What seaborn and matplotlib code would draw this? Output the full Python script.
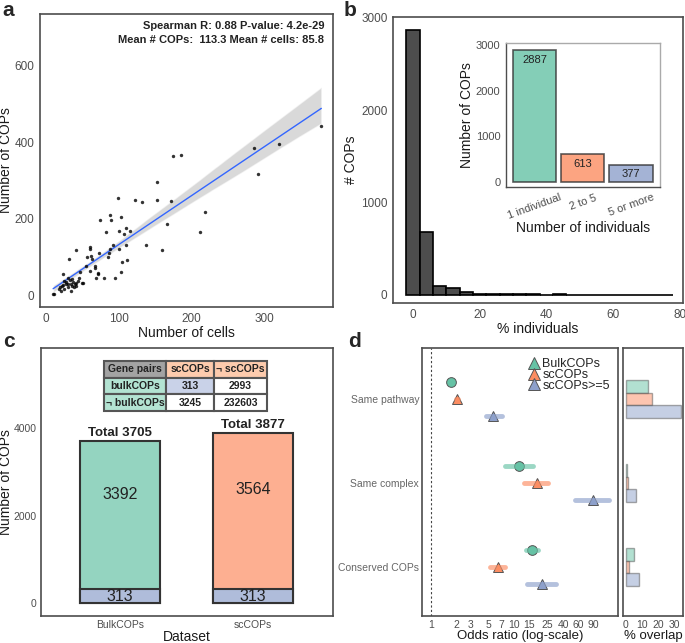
import numpy as np
import pandas as pd
import seaborn as sns
import matplotlib.pyplot as plt
from matplotlib.lines import Line2D

# panel a: cells vs COPs per individual
cells = [10, 11, 21, 23, 32, 42, 47, 50, 51, 55, 57, 60, 61, 62, 63, 61, 67, 68, 69, 71,
         72, 73, 75, 80, 82, 85, 86, 88, 88, 90, 92, 95, 99, 101, 101, 103, 104, 103, 107,
         110, 110, 111, 115, 122, 132, 137, 152, 153, 159, 166, 172, 174, 185, 211, 218,
         285, 291, 320, 378,
         20, 22, 25, 27, 28, 30, 31, 33, 34, 35, 36, 37, 38, 40, 41, 42, 44, 30, 25, 18,
         24, 36, 46]
cops = [4, 2, 11, 55, 95, 117, 61, 31, 33, 77, 99, 125, 120, 103, 95, 62, 75, 70, 44, 59,
        54, 110, 196, 46, 165, 101, 110, 120, 209, 197, 132, 46, 254, 120, 169, 204, 86, 61,
        160, 177, 132, 92, 168, 250, 243, 132, 297, 250, 117, 187, 246, 364, 367, 165, 218,
        386, 318, 396, 443,
        20, 25, 15, 30, 35, 28, 22, 40, 10, 30, 25, 35, 20, 28, 32, 25, 38, 45, 38, 15,
        26, 42, 45]

# panel b: histogram of % individuals (bins of width 4)
pct_centers = list(range(0, 80, 4))
pct_counts = [2870, 680, 98, 73, 33, 12, 8, 9, 6, 5, 4, 5, 4, 3, 2, 2, 2, 3, 2, 1]
ind_groups = ["1 individual", "2 to 5", "5 or more"]
ind_counts = [2887, 613, 377]

# panel c
datasets = ["BulkCOPs", "scCOPs"]
totals = [3705, 3877]
shared = [313, 313]
table_rows = [["Gene pairs", "scCOPs", "¬ scCOPs"],
              ["bulkCOPs", "313", "2993"],
              ["¬ bulkCOPs", "3245", "232603"]]

# panel d
terms = ["Same pathway", "Same complex", "Conserved COPs"]
cop_sets = ["BulkCOPs", "scCOPs", "scCOPs>=5"]
odds = [[1.74, 2.04, 5.6], [11.6, 18.8, 90], [16.3, 6.4, 21.5]]
odds_lo = [[1.69, 1.98, 4.56], [7.8, 13.3, 55], [13.8, 5.1, 14.5]]
odds_hi = [[1.79, 2.10, 7.1], [17.1, 25.9, 141], [19.3, 7.9, 32]]
overlap = [[13.5, 15.7, 33.5], [0.4, 1.0, 6.0], [5.0, 2.0, 8.0]]

set2 = ["#66C2A5", "#FC8D62", "#8DA0CB"]
set2_light = ["#94D4C0", "#FDAF91", "#AFBCDA"]
frame_col = "#4D4D4D"
tick_col = "#4D4D4D"
title_col = "#1A1A1A"


def style_frame(ax, lw=1.2, size=8.5):
    for s in ax.spines.values():
        s.set_visible(True)
        s.set_color(frame_col)
        s.set_linewidth(lw)
    ax.tick_params(colors="#333333", labelcolor=tick_col, length=2.5, width=0.8,
                   pad=1.5, labelsize=size)
    ax.grid(False)
    ax.set_facecolor("white")


sns.set_theme(style="white")
plt.rcParams["font.family"] = ["Liberation Sans", "DejaVu Sans"]

fig = plt.figure(figsize=(6.85, 6.43), dpi=100)

# ---------------- panel a
ax_a = fig.add_axes([0.0584, 0.5226, 0.4277, 0.4557])
sns.regplot(x=cells, y=cops, ax=ax_a, seed=1, ci=90,
            scatter_kws={"s": 6, "color": "black", "linewidths": 0, "zorder": 4},
            line_kws={"color": "#3366FF", "linewidth": 1},
            color="#999999")
for coll in ax_a.collections[1:]:
    coll.set_facecolor("#BBBBBB")
    coll.set_alpha(0.55)
ax_a.set_xlim(-8, 394)
ax_a.set_ylim(-31, 736)
ax_a.set_xticks([0, 100, 200, 300])
ax_a.set_yticks([0, 200, 400, 600])
style_frame(ax_a)
ax_a.set_xlabel("Number of cells", fontsize=10, color=title_col, labelpad=1)
ax_a.set_ylabel("Number of COPs", fontsize=10, color=title_col, labelpad=1)
ax_a.text(0.97, 0.975, "Spearman R: 0.88 P-value: 4.2e-29", transform=ax_a.transAxes,
          ha="right", va="top", fontsize=8, fontweight="bold", color="#222222")
ax_a.text(0.97, 0.927, "Mean # COPs:  113.3 Mean # cells: 85.8", transform=ax_a.transAxes,
          ha="right", va="top", fontsize=8, fontweight="bold", color="#222222")

# ---------------- panel b
ax_b = fig.add_axes([0.5737, 0.5288, 0.4234, 0.4448])
sns.barplot(x=pct_centers, y=pct_counts, native_scale=True, width=1, ax=ax_b,
            color="#4D4D4D", edgecolor="black", linewidth=1.2, saturation=1)
ax_b.set_xlim(-6, 81)
ax_b.set_ylim(-87, 3011)
ax_b.set_xticks([0, 20, 40, 60, 80])
ax_b.set_yticks([0, 1000, 2000, 3000])
style_frame(ax_b)
ax_b.set_xlabel("% individuals", fontsize=10, color=title_col, labelpad=1)
ax_b.set_ylabel("# COPs", fontsize=10, color=title_col, labelpad=2)

ax_in = fig.add_axes([0.7387, 0.7092, 0.2248, 0.224])
sns.barplot(x=ind_groups, y=ind_counts, hue=ind_groups, palette=set2, ax=ax_in,
            width=0.9, alpha=0.8, saturation=1, edgecolor="#333333", linewidth=1.2,
            legend=False)
for i, v in enumerate(ind_counts):
    ax_in.annotate(str(v), (i, v), xytext=(0, -7), textcoords="offset points",
                   ha="center", va="center", fontsize=8, color="#222222")
ax_in.set_xlim(-0.59, 2.6)
ax_in.set_ylim(-110, 3044)
ax_in.set_yticks([0, 1000, 2000, 3000])
style_frame(ax_in, lw=1, size=8)
ax_in.set_xlabel("Number of individuals", fontsize=10, color=title_col, labelpad=0)
ax_in.set_ylabel("Number of COPs", fontsize=10, color=title_col, labelpad=1)
for lab in ax_in.get_xticklabels():
    lab.set_rotation(20)
    lab.set_ha("center")
ax_in.spines["top"].set_color("#AAAAAA")
ax_in.spines["right"].set_color("#AAAAAA")

# ---------------- panel c
ax_c = fig.add_axes([0.0599, 0.042, 0.4263, 0.4168])
sns.barplot(x=datasets, y=totals, hue=datasets, palette=set2_light[:2], ax=ax_c,
            width=0.6, saturation=1, edgecolor="#333333", linewidth=1.5, legend=False)
sns.barplot(x=datasets, y=shared, color=set2_light[2], ax=ax_c, width=0.6,
            saturation=1, edgecolor="#333333", linewidth=1.5)
for i, (t, s) in enumerate(zip(totals, shared)):
    ax_c.text(i, t + 50, f"Total {t}", ha="center", va="bottom", fontsize=9.5,
              fontweight="bold", color="#222222")
    ax_c.text(i, t * 0.667, str(t - s), ha="center", va="center", fontsize=11.5,
              color="#222222")
    ax_c.text(i, s / 2, str(s), ha="center", va="center", fontsize=11.5, color="#222222")
ax_c.set_xlim(-0.594, 1.6)
ax_c.set_ylim(-297, 5829)
ax_c.set_yticks([0, 2000, 4000])
style_frame(ax_c, size=7.5)
ax_c.tick_params(length=2, pad=1)
ax_c.set_xlabel("Dataset", fontsize=10, color=title_col, labelpad=0)
ax_c.set_ylabel("Number of COPs", fontsize=10, color=title_col, labelpad=0.5)

cell_colors = [["#A3A3A3", "#FDCBAD", "#FDCBAD"],
               ["#B3E3D2", "#C9D2E8", "white"],
               ["#B3E3D2", "white", "white"]]
tbl = ax_c.table(cellText=table_rows, cellColours=cell_colors, cellLoc="center",
                 colWidths=[0.38, 0.294, 0.326], bbox=[0.216, 0.765, 0.558, 0.186])
tbl.auto_set_font_size(False)
for (r, c), cell in tbl.get_celld().items():
    cell.set_edgecolor("#555555")
    cell.set_linewidth(1.5)
    cell.get_text().set_fontsize(7.5)
    cell.get_text().set_fontweight("bold")
    cell.get_text().set_color("#222222")

# ---------------- panel d
rows = []
for ti, term in enumerate(terms):
    for si, cs in enumerate(cop_sets):
        for val in (odds_lo[ti][si], odds[ti][si], odds_hi[ti][si]):
            rows.append({"term": term, "set": cs, "odds": val})
odds_df = pd.DataFrame(rows)

ax_d = fig.add_axes([0.616, 0.042, 0.2861, 0.4168])
ax_d.set_xscale("log")
ax_d.axvline(1, color="#444444", linestyle=(0, (2, 2)), linewidth=0.8)
sns.pointplot(data=odds_df, x="odds", y="term", hue="set", order=terms,
              hue_order=cop_sets, palette=set2, estimator="median",
              errorbar=("pi", 100), dodge=0.4, markers=["o", "^", "^"],
              linestyles="none", err_kws={"linewidth": 3.5, "alpha": 0.65},
              markersize=7, markeredgecolor="#555555", markeredgewidth=0.7,
              legend=False, ax=ax_d)
ax_d.set_xlim(0.78, 179)
ax_d.set_ylim(2.583, -0.607)
ax_d.set_xticks([1, 2, 3, 5, 7, 10, 15, 25, 40, 60, 90])
ax_d.set_xticklabels(["1", "2", "3", "5", "7", "10", "15", "25", "40", "60", "90"])
ax_d.minorticks_off()
style_frame(ax_d, size=7.5)
ax_d.tick_params(axis="x", length=2, pad=1)
ax_d.tick_params(axis="y", length=0, pad=2, labelcolor="#666666")
ax_d.set_xlabel("Odds ratio (log-scale)", fontsize=9.5, color=title_col, labelpad=0)
ax_d.set_ylabel("")
handles = [Line2D([], [], marker="^", color=c, linestyle="none", markersize=8,
                  markeredgecolor="#555555", markeredgewidth=0.7) for c in set2]
ax_d.legend(handles, cop_sets, loc="upper left", bbox_to_anchor=(0.5, 0.99),
            frameon=False, fontsize=9, handletextpad=0.2, labelspacing=-0.1,
            borderaxespad=0.2, handlelength=1)

ovl_rows = []
for ti, term in enumerate(terms):
    for si, cs in enumerate(cop_sets):
        ovl_rows.append({"term": term, "set": cs, "pct": overlap[ti][si]})
ovl_df = pd.DataFrame(ovl_rows)

ax_o = fig.add_axes([0.9095, 0.042, 0.0876, 0.4168])
sns.barplot(data=ovl_df, x="pct", y="term", hue="set", order=terms, hue_order=cop_sets,
            palette=set2, orient="h", width=0.45, alpha=0.5, saturation=1,
            edgecolor="#555555", linewidth=1, legend=False, ax=ax_o)
ax_o.set_xlim(-1.8, 35)
ax_o.set_ylim(2.583, -0.607)
ax_o.set_xticks([0, 10, 20, 30])
ax_o.set_yticks([])
ax_o.set_ylabel("")
style_frame(ax_o, size=7.5)
ax_o.tick_params(axis="x", length=2, pad=1)
ax_o.set_xlabel("% overlap", fontsize=9.5, color=title_col, labelpad=0)

for lab, x, y in [("a", 0.003, 0.998), ("b", 0.502, 0.998), ("c", 0.005, 0.484),
                  ("d", 0.508, 0.484)]:
    fig.text(x, y, lab, fontsize=15, fontweight="bold", ha="left", va="top")

fig.savefig("out.png", dpi=100, facecolor="white")
